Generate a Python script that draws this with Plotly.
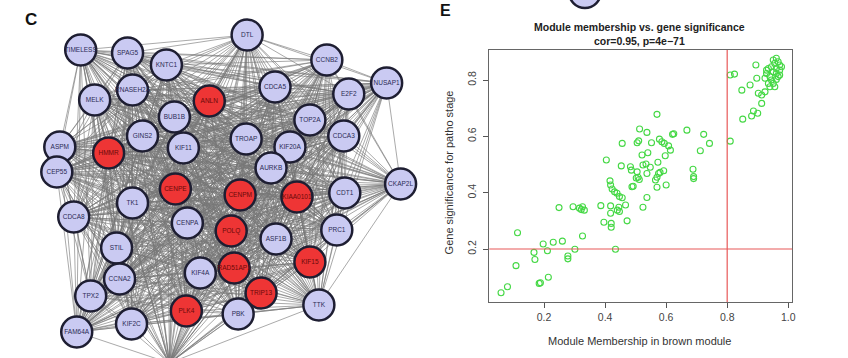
import itertools
import plotly.graph_objects as go

# ---------------- Network (panel C) ----------------
node_names = ["TIMELESS", "SPAG5", "KNTC1", "RNASEH2A", "MELK", "ANLN", "BUB1B", "GINS2",
              "HMMR", "ASPM", "KIF11", "CEP55", "DTL", "CCNB2", "NUSAP1", "CDCA5", "E2F2",
              "TOP2A", "CDCA3", "TROAP", "KIF20A", "AURKB", "CENPE", "TK1", "CDCA8", "CENPA",
              "STIL", "KIF4A", "CCNA2", "TPX2", "PLK4", "KIF2C", "FAM64A", "", "CENPM",
              "KIAA0101", "CDT1", "CKAP2L", "POLQ", "ASF1B", "PRC1", "RAD51AP1", "KIF15",
              "TRIP13", "PBK", "TTK"]
node_x = [81, 128, 167, 133, 95, 210, 175, 143, 109, 60, 184, 57, 248, 328, 388, 276, 350,
          311, 345, 247, 291, 272, 176, 133, 74, 188, 117, 201, 120, 91, 187, 132, 77, 170, 241,
          298, 346, 402, 232, 277, 338, 235, 311, 262, 239, 320]
node_y = [50, 53, 65, 90, 100, 101, 117, 136, 153, 147, 148, 172, 35, 60, 83, 87, 94,
          120, 136, 139, 147, 168, 189, 203, 217, 223, 248, 273, 279, 296, 311, 324, 332, 363, 195,
          197, 193, 184, 231, 239, 230, 268, 262, 293, 314, 305]
hub_genes = ["ANLN", "HMMR", "CENPE", "CENPM", "KIAA0101", "POLQ", "RAD51AP1", "KIF15",
             "TRIP13", "PLK4"]

# ---------------- Scatter (panel E) ----------------
mm = [0.059, 0.080, 0.108, 0.113, 0.167, 0.170, 0.184, 0.188, 0.197, 0.211, 0.214, 0.230,
      0.249, 0.260, 0.278, 0.278, 0.295, 0.301, 0.316, 0.322, 0.326, 0.332, 0.326, 0.386,
      0.396, 0.418, 0.420, 0.420, 0.434, 0.440, 0.447, 0.472,
      0.570, 0.513, 0.537, 0.456, 0.505, 0.510, 0.552, 0.578, 0.586, 0.594, 0.608, 0.614,
      0.621, 0.625, 0.668, 0.723, 0.742, 0.712, 0.810, 0.404, 0.521, 0.540, 0.597, 0.453,
      0.483, 0.486, 0.524, 0.534, 0.548, 0.573, 0.592, 0.688, 0.690, 0.690, 0.505, 0.508,
      0.512, 0.502, 0.537, 0.575, 0.570, 0.565, 0.580, 0.416, 0.418, 0.423, 0.431, 0.439,
      0.447, 0.456, 0.488, 0.492, 0.600, 0.570, 0.467, 0.445, 0.418, 0.537, 0.524,
      0.810, 0.824, 0.894, 0.848, 0.875, 0.897, 0.902, 0.913, 0.924, 0.913, 0.886, 0.900,
      0.880, 0.851,
      0.951, 0.961, 0.967, 0.956, 0.972, 0.945, 0.935, 0.961, 0.972, 0.951, 0.929, 0.961,
      0.940, 0.972, 0.924, 0.945, 0.961, 0.935, 0.951, 0.956, 0.940, 0.929, 0.978, 0.967]
gs = [0.045, 0.066, 0.141, 0.258, 0.188, 0.163, 0.078, 0.080, 0.218, 0.194, 0.100, 0.224,
      0.347, 0.228, 0.175, 0.165, 0.350, 0.199, 0.345, 0.340, 0.350, 0.338, 0.246, 0.354,
      0.295, 0.327, 0.291, 0.277, 0.199, 0.338, 0.333, 0.300,
      0.678, 0.626, 0.614, 0.575, 0.577, 0.584, 0.577, 0.590, 0.581, 0.575, 0.566, 0.551,
      0.607, 0.609, 0.622, 0.607, 0.575, 0.549, 0.583, 0.516, 0.534, 0.542, 0.531, 0.495,
      0.492, 0.480, 0.498, 0.502, 0.490, 0.508, 0.478, 0.483, 0.457, 0.450, 0.474, 0.455,
      0.447, 0.452, 0.468, 0.468, 0.455, 0.445, 0.472, 0.442, 0.427, 0.413, 0.403, 0.398,
      0.386, 0.382, 0.421, 0.423, 0.427, 0.419, 0.356, 0.348, 0.353, 0.383, 0.348,
      0.818, 0.821, 0.853, 0.764, 0.782, 0.806, 0.753, 0.747, 0.758, 0.717, 0.690, 0.682,
      0.672, 0.661,
      0.871, 0.877, 0.865, 0.859, 0.853, 0.847, 0.841, 0.841, 0.835, 0.829, 0.823, 0.823,
      0.812, 0.818, 0.806, 0.800, 0.802, 0.788, 0.788, 0.776, 0.776, 0.835, 0.847, 0.812]
x_ticks = [0.2, 0.4, 0.6, 0.8, 1.0]
y_ticks = [0.2, 0.4, 0.6, 0.8]
mm_cut = 0.8
gs_cut = 0.2
plot_title = "Module membership vs. gene significance<br>cor=0.95, p=4e\u221271"
x_title = "Module Membership in brown module"
y_title = "Gene significance for patho stage"

W, H = 848, 358
FONT = "Liberation Sans, Arial, sans-serif"

fig = go.Figure()

# edges: all pairs
ex, ey = [], []
for i, j in itertools.combinations(range(len(node_names)), 2):
    ex += [node_x[i], node_x[j], None]
    ey += [node_y[i], node_y[j], None]
fig.add_trace(go.Scatter(x=ex, y=ey, mode="lines", xaxis="x", yaxis="y",
                         line=dict(color="rgba(120,120,120,0.7)", width=0.9),
                         hoverinfo="skip", showlegend=False))

for is_hub in (False, True):
    idx = [k for k, n in enumerate(node_names) if (n in hub_genes) == is_hub]
    fig.add_trace(go.Scatter(
        x=[node_x[k] for k in idx], y=[node_y[k] for k in idx],
        text=[node_names[k] for k in idx], mode="markers+text",
        textposition="middle center", xaxis="x", yaxis="y",
        marker=dict(size=31, color="#EE3535" if is_hub else "#CACAF2",
                    line=dict(color="#1E1E32", width=2.5)),
        textfont=dict(family=FONT, size=6.5, color="#6A0A0A" if is_hub else "#2A2A55"),
        cliponaxis=False, hoverinfo="skip", showlegend=False))

# scatter
fig.add_trace(go.Scatter(x=mm, y=gs, mode="markers", xaxis="x2", yaxis="y2",
                         marker=dict(symbol="circle-open", size=6, color="#45D845",
                                     line=dict(width=1.1)),
                         hoverinfo="skip", showlegend=False))

shapes = [
    dict(type="line", xref="x2", yref="y2 domain", x0=mm_cut, x1=mm_cut, y0=0, y1=1,
         line=dict(color="#E85858", width=1.2)),
    dict(type="line", xref="x2 domain", yref="y2", x0=0, x1=1, y0=gs_cut, y1=gs_cut,
         line=dict(color="#E85858", width=1.2)),
    # partially visible node from the panel above
    dict(type="circle", xref="paper", yref="paper",
         x0=(587 - 16) / W, x1=(587 + 16) / W, y0=1 - (-8 + 16) / H, y1=1 - (-8 - 16) / H,
         fillcolor="#CACAF2", line=dict(color="#1E1E32", width=2.5)),
]


def ann(text, px, py, size, color, angle=0):
    return dict(text=text, x=px / W, y=1 - py / H, xref="paper", yref="paper",
                xanchor="center", yanchor="middle", showarrow=False, textangle=angle,
                font=dict(family=FONT, size=size, color=color))


annotations = [
    ann("<b>C</b>", 31, 19, 17, "#111"),
    ann("<b>E</b>", 447, 10, 16, "#111"),
    ann("<b>" + plot_title + "</b>", 642, 34, 10.5, "#222"),
    ann(x_title, 642, 341, 11, "#333"),
    ann(y_title, 451, 172, 11, "#333", -90),
]

fig.update_layout(
    width=W, height=H, margin=dict(l=0, r=0, t=0, b=0),
    paper_bgcolor="white", plot_bgcolor="rgba(0,0,0,0)",
    xaxis=dict(domain=[0, 430 / W], range=[0, 430], visible=False, fixedrange=True),
    yaxis=dict(domain=[0, 1], range=[358, 0], visible=False, fixedrange=True),
    xaxis2=dict(domain=[491 / W, 795 / W], range=[0.0204, 1.013], anchor="y2",
                tickvals=x_ticks, ticktext=[f"{v:.1f}" for v in x_ticks],
                ticks="outside", ticklen=5, tickcolor="#555", showline=True, mirror=True,
                linecolor="#666", linewidth=1, showgrid=False, zeroline=False,
                tickfont=dict(family=FONT, size=10.5, color="#444")),
    yaxis2=dict(domain=[56 / H, 308 / H], range=[0.0119, 0.9065], anchor="x2",
                tickvals=y_ticks, ticktext=[f"{v:.1f}" for v in y_ticks], tickangle=-90,
                ticks="outside", ticklen=5, tickcolor="#555", showline=True, mirror=True,
                linecolor="#666", linewidth=1, showgrid=False, zeroline=False,
                ticklabelstandoff=3,
                tickfont=dict(family=FONT, size=10.5, color="#444")),
    shapes=shapes, annotations=annotations,
)

fig.write_html("out.html", config={"displayModeBar": False},
               post_script="document.body.style.margin='0';document.body.style.overflow='hidden';")
